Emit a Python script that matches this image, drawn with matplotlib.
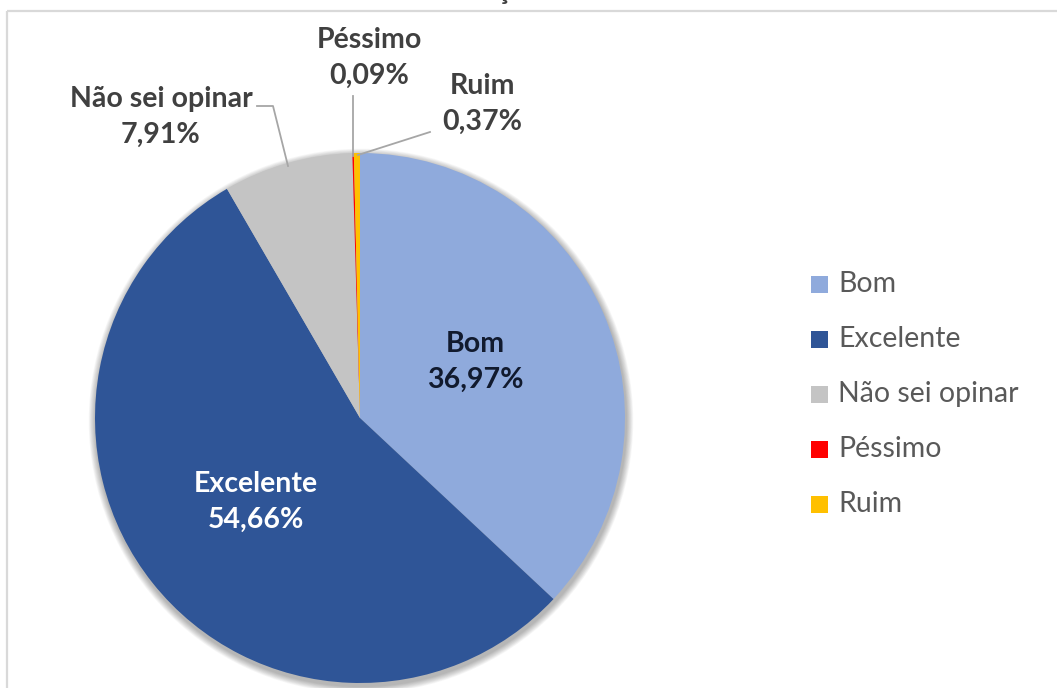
import matplotlib
matplotlib.use('Agg')
import matplotlib.pyplot as plt
from matplotlib.patches import Circle, Rectangle

plt.rcParams['font.family'] = ['Lato', 'DejaVu Sans']

categories = ['Bom', 'Excelente', 'Não sei opinar', 'Péssimo', 'Ruim']
values = [36.97, 54.66, 7.91, 0.09, 0.37]
colors = ['#8FAADC', '#2F5597', '#C4C4C4', '#FF0000', '#FFC000']

W, H = 1057, 688
fig = plt.figure(figsize=(W / 100, H / 100), dpi=100)
ax = fig.add_axes([0, 0, 1, 1])


def Y(y):
    # pixel rows counted from the top
    return H - y


cx, cy, r = 360, Y(418), 265

# soft shadow under the pie
for i in range(10):
    ax.add_patch(Circle((cx + 1, cy - 3), r + 1 + i * 0.7, color='#000000',
                        alpha=0.03, lw=0, zorder=1))

ax.pie(values, colors=colors, startangle=90, counterclock=False,
       center=(cx, cy), radius=r, frame=True,
       wedgeprops=dict(linewidth=0, zorder=2))
ax.set_xlim(0, W)
ax.set_ylim(0, H)
ax.set_aspect('equal')
ax.axis('off')


def pct(v):
    return f'{v:.2f}%'.replace('.', ',')


lab = dict(fontsize=20.5, fontweight='bold', ha='center', va='center', zorder=5,
           linespacing=1.45)

# labels inside the big slices
ax.text(475, Y(362), f'{categories[0]}\n{pct(values[0])}', color='#111a2e', **lab)
ax.text(256, Y(502), f'{categories[1]}\n{pct(values[1])}', color='white', **lab)

# outer labels with leader lines
grey = '#404040'
ax.text(161, Y(117), f'{categories[2]}\n{pct(values[2])}', color=grey, **lab)
ax.text(369, Y(58), f'{categories[3]}\n{pct(values[3])}', color=grey, **lab)
ax.text(482, Y(104), f'{categories[4]}\n{pct(values[4])}', color=grey, **lab)

lc = dict(color='#A6A6A6', lw=1.3, zorder=4)
ax.plot([257, 273, 288], [Y(106), Y(106), Y(166)], **lc)
ax.plot([352.5, 352.5], [Y(96), Y(156)], **lc)
ax.plot([430, 358], [Y(132), Y(155)], **lc)

# legend
for i, (name, col) in enumerate(zip(categories, colors)):
    yy = Y(284 + i * 55)
    ax.add_patch(Rectangle((811, yy - 8.5), 17, 17, color=col, lw=0, zorder=5))
    ax.text(838, yy, name, fontsize=20.5, color='#595959', ha='left',
            va='center', zorder=5)

# chart frame
fc = dict(color='#D9D9D9', lw=1.6, zorder=6, solid_capstyle='butt')
ax.plot([7, 7], [0, Y(11)], **fc)
ax.plot([7, W], [Y(11), Y(11)], **fc)

# title, mostly above the visible area
ax.text(503, Y(-1), 'ç', fontsize=20, fontweight='bold', color=grey,
        ha='center', va='baseline', zorder=6, clip_on=False)

fig.savefig('out.png', dpi=100)
